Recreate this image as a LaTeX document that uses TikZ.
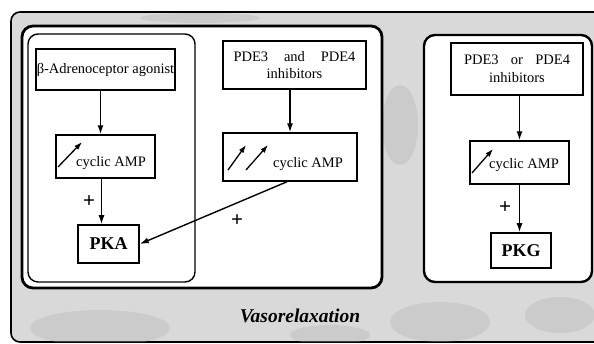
\documentclass[tikz,border=0pt]{standalone}
\usepackage{fontspec}
\setmainfont{Liberation Serif}
\usetikzlibrary{arrows.meta}
\begin{document}
\begin{tikzpicture}[x=1pt,y=-1pt,
  box/.style={draw, line width=1.5pt, fill=white, inner sep=0pt},
  txt/.style={inner sep=0pt, font=\fontsize{14.5}{17}\selectfont},
  bbox/.style={draw, line width=1.6pt, fill=white, inner sep=0pt, font=\fontsize{18}{20}\selectfont\bfseries},
  conn/.style={-{Latex[length=9pt,width=6pt]}, line width=1.4pt},
  uparr/.style={-{Latex[length=8pt,width=5.5pt]}, line width=1.3pt},
  plus/.style={inner sep=0pt, font=\fontsize{21}{21}\selectfont\bfseries},
  blob/.style={fill=gray!60, opacity=0.35}
]
\useasboundingbox (0,0) rectangle (594,343);
\clip (0,0) rectangle (594,343);
% textured background frame
\draw[line width=1.6pt, fill=gray!30, rounded corners=9pt] (11,12) rectangle (640,342);
\begin{scope}
\clip[rounded corners=9pt] (11,12) rectangle (640,342);
\fill[blob] (100,328) ellipse (70 and 18);
\fill[blob] (440,322) ellipse (50 and 20);
\fill[blob] (400,125) ellipse (18 and 40);
\fill[blob] (560,315) ellipse (35 and 18);
\fill[blob] (330,335) ellipse (40 and 10);
\fill[blob] (200,18) ellipse (60 and 5);
\end{scope}
% enclosing boxes
\draw[line width=2.8pt, fill=white, rounded corners=11pt] (22,26) rectangle (382,288);
\draw[line width=1.4pt, rounded corners=10pt] (28,34) rectangle (195,282);
\draw[line width=2.4pt, fill=white, rounded corners=11pt] (424,35) rectangle (592,282);
% left column
\node[box, minimum width=139pt, minimum height=41pt, font=\fontsize{14.5}{17}\selectfont] (agon) at (105.5,69.5) {β-Adrenoceptor agonist};
\node[box, minimum width=99pt, minimum height=43pt] (cL) at (105.5,156.5) {};
\node[txt, anchor=base] (cLt) at (111,166) {cyclic AMP};
\node[bbox, minimum width=61pt, minimum height=38pt] (pka) at (108.5,244) {PKA};
% middle column
\node[box, minimum width=143pt, minimum height=48pt, align=center, text width=122pt, font=\fontsize{14.5}{17.5}\selectfont] (pdeA) at (294.5,65) {PDE3\hfill and\hfill PDE4\\inhibitors};
\node[box, minimum width=134pt, minimum height=48pt] (cM) at (290,157) {};
\node[txt, anchor=base] (cMt) at (308,167) {cyclic AMP};
% right column
\node[box, minimum width=132pt, minimum height=52pt, align=center, text width=106pt, font=\fontsize{14.5}{17.5}\selectfont] (pdeO) at (517,69) {PDE3\hfill or\hfill PDE4\\inhibitors};
\node[box, minimum width=99pt, minimum height=43pt] (cR) at (519.5,162.5) {};
\node[txt, anchor=base] (cRt) at (524,168) {cyclic AMP};
\node[bbox, minimum width=60pt, minimum height=35pt] (pkg) at (521,250.5) {PKG};
% increase arrows inside the cyclic AMP boxes
\draw[uparr] (58,167) -- (82,142);
\draw[uparr] (228,170) -- (246,145);
\draw[uparr] (246,170) -- (268,145);
\draw[uparr] (472,173) -- (493,149);
% connectors
\draw[conn] ([xshift=-5pt]agon.south) -- ([xshift=-5pt]cL.north);
\draw[conn] ([xshift=-4pt]cL.south) -- ([xshift=-4pt]cL.south |- pka.north);
\draw[conn] (pdeA.south -| cM.north) -- (cM.north);
\draw[conn] ([xshift=-3pt]cM.south) -- (pka.east);
\draw[conn] (pdeO.south -| cR.north) -- (cR.north);
\draw[conn] (cR.south) -- (cR.south |- pkg.north);
% plus signs
\node[plus] (p1) at (89,202) {+};
\node[plus] (p2) at (237,221) {+};
\node[plus] (p3) at (505,208) {+};
% caption
\node[inner sep=0pt, anchor=base, font=\fontsize{19.5}{21}\selectfont\bfseries\itshape] (vaso) at (300,322) {Vasorelaxation};
\end{tikzpicture}
\end{document}
